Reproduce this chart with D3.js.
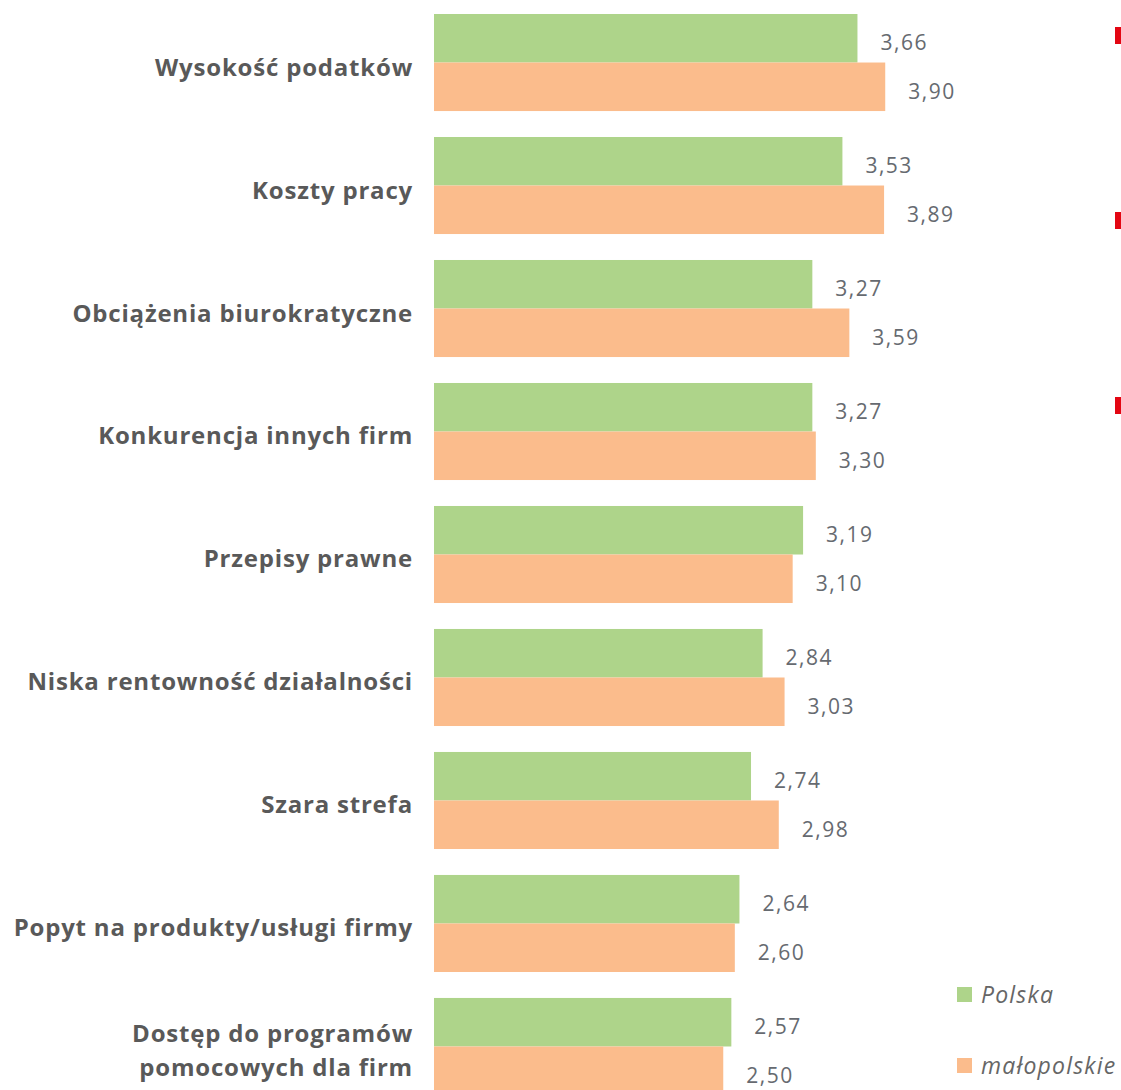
<!DOCTYPE html>
<html lang="pl">
<head>
<meta charset="UTF-8">
<title>Bariery</title>
<script src="https://cdn.jsdelivr.net/npm/d3@7"></script>
<style>
    body { margin: 0; background: #fff; }
    svg text { font-family: "Open Sans", "Lato", sans-serif; }
</style>
</head>
<body>
<div id="chart"></div>
<script>
    // categories (multi-line labels split by |)
    var categories = [
        "Wysokość podatków",
        "Koszty pracy",
        "Obciążenia biurokratyczne",
        "Konkurencja innych firm",
        "Przepisy prawne",
        "Niska rentowność działalności",
        "Szara strefa",
        "Popyt na produkty/usługi firmy",
        "Dostęp do programów|pomocowych dla firm"
    ];
    var polska = [3.66, 3.53, 3.27, 3.27, 3.19, 2.84, 2.74, 2.64, 2.57];
    var malopolskie = [3.90, 3.89, 3.59, 3.30, 3.10, 3.03, 2.98, 2.60, 2.50];
    var seriesNames = ["Polska", "małopolskie"];
    var colors = ["#aed48a", "#fbbc8c"];

    var width = 1121, height = 1090;
    var svg = d3.select("#chart").append("svg")
        .attr("width", width)
        .attr("height", height);

    var x = d3.scaleLinear().domain([0, 1]).range([434, 549.7]);
    var y = d3.scaleBand().domain(d3.range(categories.length))
        .range([14, 1095]).paddingInner(0.211).paddingOuter(0);
    var sub = d3.scaleBand().domain([0, 1]).range([0, y.bandwidth()]);

    var rows = categories.map(function(c, i){
        return {name: c, vals: [polska[i], malopolskie[i]]};
    });

    var g = svg.selectAll(".grp").data(rows).enter().append("g")
        .attr("class", "grp")
        .attr("transform", function(d, i){ return "translate(0," + y(i) + ")"; });

    g.selectAll("rect").data(function(d){ return d.vals; }).enter().append("rect")
        .attr("x", x(0))
        .attr("y", function(d, j){ return sub(j); })
        .attr("width", function(d){ return x(d) - x(0); })
        .attr("height", sub.bandwidth())
        .attr("fill", function(d, j){ return colors[j]; });

    g.selectAll(".val").data(function(d){ return d.vals; }).enter().append("text")
        .attr("class", "val")
        .attr("x", function(d){ return x(d) + 23; })
        .attr("y", function(d, j){ return sub(j) + sub.bandwidth() / 2 + 12; })
        .attr("fill", "#666a70")
        .style("font-size", "21px")
        .style("letter-spacing", "1.5px")
        .text(function(d){ return d.toFixed(2).replace(".", ","); });

    g.each(function(d){
        var lines = d.name.split("|");
        var t = d3.select(this).append("text")
            .attr("x", 413)
            .attr("text-anchor", "end")
            .attr("fill", "#595959")
            .style("font-size", "24px")
            .style("letter-spacing", "0.8px")
            .style("font-weight", "bold");
        var cy = y.bandwidth() / 2;
        lines.forEach(function(l, k){
            t.append("tspan")
                .attr("x", 413)
                .attr("y", cy + 13 + (k - (lines.length - 1) / 2) * 34)
                .text(l);
        });
    });

    // legend
    var leg = svg.selectAll(".leg").data(seriesNames).enter().append("g")
        .attr("class", "leg")
        .attr("transform", function(d, i){ return "translate(957," + (987 + i * 71) + ")"; });
    leg.append("rect").attr("width", 15).attr("height", 15)
        .attr("fill", function(d, i){ return colors[i]; });
    leg.append("text").attr("x", 24).attr("y", 16)
        .attr("fill", "#666")
        .style("font-size", "23px")
        .style("letter-spacing", "1.2px")
        .style("font-style", "italic")
        .text(function(d){ return d; });

    // red edge marks
    var marks = [27, 212, 397];
    svg.selectAll(".mark").data(marks).enter().append("rect")
        .attr("x", 1115).attr("y", function(d){ return d; })
        .attr("width", 6).attr("height", 17)
        .attr("fill", "#e30613");
</script>
</body>
</html>
